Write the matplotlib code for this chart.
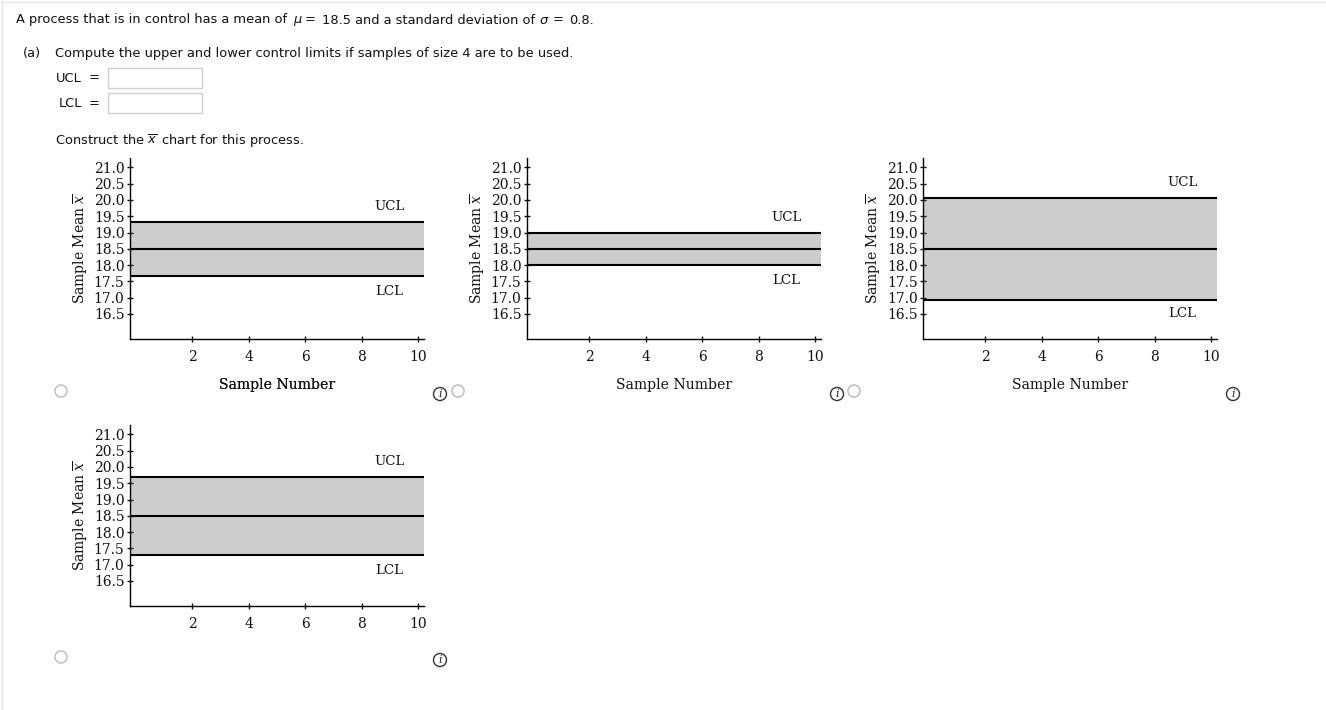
import matplotlib
matplotlib.use('Agg')
import matplotlib.pyplot as plt
from matplotlib.patches import Rectangle, Circle

W, H = 1326, 710

# values
mean_line = 18.5
ucl_values = [19.33, 19.0, 20.05, 19.69]
lcl_values = [17.66, 18.0, 16.93, 17.3]
ucl_label_y = [19.8, 19.45, 20.55, 20.17]
lcl_label_y = [17.2, 17.52, 16.5, 16.83]
y_ticks = [16.5, 17.0, 17.5, 18.0, 18.5, 19.0, 19.5, 20.0, 20.5, 21.0]
x_ticks = [2, 4, 6, 8, 10]

# left, top, right, bottom of each panel in pixels
panel_boxes = [
    (130, 158, 424, 339.3),
    (527, 158, 821, 339.3),
    (923.3, 158, 1217, 339.3),
    (130, 425, 424, 606.3),
]
radio_spots = [(61, 391), (458, 391), (854, 391), (61, 657)]
info_spots = [(440, 394), (837, 394), (1233, 394), (440, 660)]

fig = plt.figure(figsize=(W / 100, H / 100), dpi=100)

# whole page overlay in pixel coordinates, for the question text and widgets
page = fig.add_axes([0, 0, 1, 1])
page.set_xlim(0, W)
page.set_ylim(H, 0)
page.axis('off')

page.plot([1, W], [1.5, 1.5], color='#e4e4e4', lw=1)
page.plot([1.5, 1.5], [1, H], color='#e4e4e4', lw=1)

sans = dict(family='DejaVu Sans', fontsize=9.35, color='#111111', va='center')
line_one = dict(family='DejaVu Sans', fontsize=9.35, color='#111111', va='baseline', math_fontfamily='dejavusans')
page.text(16, 23.5, 'A process that is in control has a mean of', **line_one)
page.text(293, 23.5, r'$\mu$', **line_one)
page.text(305, 23.5, '=', **line_one)
page.text(322, 23.5, '18.5 and a standard deviation of', **line_one)
page.text(539, 23.5, r'$\sigma$', **line_one)
page.text(553, 23.5, '=', **line_one)
page.text(569, 23.5, '0.8.', **line_one)
page.text(23, 53.5, '(a)', **sans)
page.text(55, 53.5, 'Compute the upper and lower control limits if samples of size 4 are to be used.', **sans)
page.text(56, 78, 'UCL', **sans)
page.text(89, 78, '=', **sans)
page.text(58.5, 103.5, 'LCL', **sans)
page.text(89, 103.5, '=', **sans)
page.text(55, 141, r'Construct the $\overline{x}\,$ chart for this process.',
          math_fontfamily='dejavusans', **sans)

for top in [68, 93]:
    page.add_patch(Rectangle((107.5, top), 94, 20, fc='white', ec='#d0d0d0', lw=1))

for x, y in radio_spots:
    page.add_patch(Circle((x, y), 6, fc='white', ec='#c4c4c4', lw=1.2))

for x, y in info_spots:
    page.add_patch(Circle((x, y), 6.5, fc='white', ec='#333333', lw=1))
    page.text(x, y, 'i', family='DejaVu Serif', style='italic',
              fontsize=8, ha='center', va='center', color='#222222')

for i, box in enumerate(panel_boxes):
    left, top, right, bottom = box
    ax = fig.add_axes([left / W, 1 - bottom / H, (right - left) / W, (bottom - top) / H])
    ax.patch.set_alpha(0)
    ax.set_xlim(-0.2, 10.2)
    ax.set_ylim(15.72, 21.29)
    ax.axhspan(lcl_values[i], ucl_values[i], color='#cccccc', lw=0, zorder=1)
    for level in [ucl_values[i], mean_line, lcl_values[i]]:
        ax.axhline(level, color='black', lw=1.5, zorder=2)
    ax.text(8.98, ucl_label_y[i], 'UCL', family='DejaVu Serif', fontsize=9.6, ha='center', va='center', color='#111111')
    ax.text(8.98, lcl_label_y[i], 'LCL', family='DejaVu Serif', fontsize=9.6, ha='center', va='center', color='#111111')

    for side in ['top', 'right']:
        ax.spines[side].set_visible(False)
    for side in ['left', 'bottom']:
        ax.spines[side].set_linewidth(1)
    ax.set_xticks(x_ticks)
    ax.set_yticks(y_ticks)
    ax.set_yticklabels([f'{v:.1f}' for v in y_ticks])
    ax.tick_params(axis='y', direction='inout', length=5, width=1, pad=1.5, labelsize=10, colors='#111111')
    ax.tick_params(axis='x', direction='inout', length=5, width=1, pad=5, labelsize=10, colors='#111111')
    for label in ax.get_xticklabels() + ax.get_yticklabels():
        label.set_family('DejaVu Serif')

    ax.set_xlabel('Sample Number', family='DejaVu Serif', fontsize=10.1, color='#111111')
    ax.xaxis.set_label_coords(147.2 / (right - left), -(384.5 - bottom) / (bottom - top), transform=ax.transAxes)
    ax.xaxis.label.set_va('center')
    ax.set_ylabel(r'Sample Mean $\overline{x}$', family='DejaVu Serif', fontsize=10, color='#111111',
                  math_fontfamily='dejavuserif')
    ax.yaxis.set_label_coords(-49.5 / (right - left), (bottom - (top + 91)) / (bottom - top), transform=ax.transAxes)
    ax.yaxis.label.set_va('center')

fig.savefig('out.png', dpi=100)
